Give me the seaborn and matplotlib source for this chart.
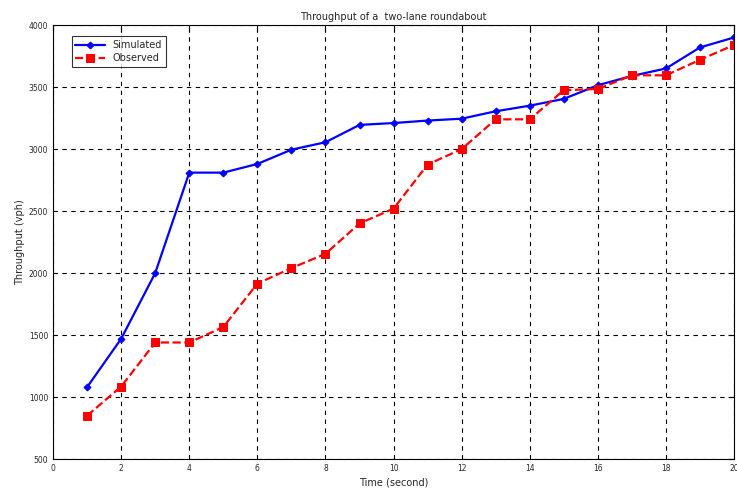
import pandas as pd
import matplotlib
matplotlib.use("Agg")
import matplotlib.pyplot as plt
import seaborn as sns

# data
time_s = list(range(1, 21))
simulated = [1080, 1470, 2000, 2810, 2810, 2880, 2995, 3055, 3195, 3210,
             3230, 3245, 3305, 3350, 3405, 3515, 3590, 3650, 3820, 3900]
observed = [850, 1085, 1440, 1440, 1565, 1915, 2040, 2155, 2400, 2520,
            2875, 3000, 3240, 3240, 3475, 3485, 3595, 3595, 3720, 3840]
x_ticks = list(range(0, 21, 2))
y_ticks = list(range(500, 4001, 500))

df = pd.DataFrame({
    "Time": time_s + time_s,
    "Throughput": simulated + observed,
    "Series": ["Simulated"] * len(time_s) + ["Observed"] * len(time_s)
})

sns.set_style("white")
plt.rcParams["font.family"] = ["DejaVu Sans"]

fig = plt.figure(figsize=(7.37, 4.92), dpi=100)
ax = fig.add_axes([0.072, 0.067, 0.924, 0.882])

sns.lineplot(
    data=df[df["Series"] == "Simulated"],
    x="Time", y="Throughput",
    color="blue", linewidth=1.6,
    marker="D", markersize=3.5, markeredgecolor="blue",
    label="Simulated", ax=ax
)
sns.lineplot(
    data=df[df["Series"] == "Observed"],
    x="Time", y="Throughput",
    color="red", linewidth=1.6, linestyle="--",
    marker="s", markersize=5.5, markeredgecolor="red",
    label="Observed", ax=ax
)

ax.set_xlim(0, 20)
ax.set_ylim(500, 4000)
ax.set_xticks(x_ticks)
ax.set_yticks(y_ticks)
ax.tick_params(direction="in", length=4, labelsize=5.5, color="black",
               top=True, right=True)
ax.grid(True, color="black", linestyle=(0, (4, 4)), linewidth=0.8)
for sp in ax.spines.values():
    sp.set_color("black")
    sp.set_linewidth(0.8)

ax.set_title("Throughput of a  two-lane roundabout", fontsize=7, pad=4)
ax.set_xlabel("Time (second)", fontsize=7, labelpad=3)
ax.set_ylabel("Throughput (vph)", fontsize=7, labelpad=3)

leg = ax.legend(loc="upper left", bbox_to_anchor=(0.02, 0.985), fontsize=7,
                frameon=True, fancybox=False, edgecolor="black",
                handlelength=3, borderpad=0.4, labelspacing=0.3)
leg.get_frame().set_linewidth(0.8)

fig.savefig("out.png", dpi=100)
